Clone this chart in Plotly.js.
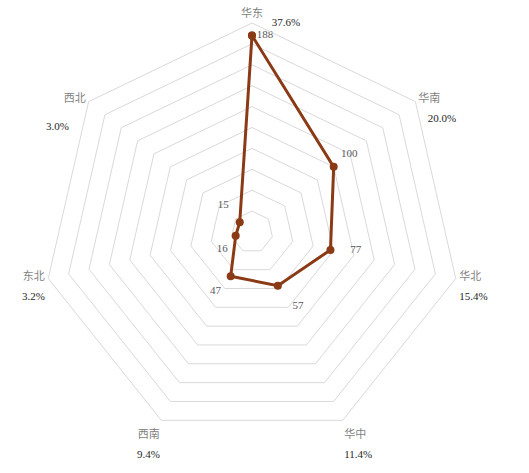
<!DOCTYPE html>
<html>
<head>
<meta charset="utf-8">
<script src="https://cdn.plot.ly/plotly-3.0.1.min.js"></script>
<style>
html,body{margin:0;padding:0;background:#fff;}
#chart{width:529px;height:473px;}
</style>
</head>
<body>
<div id="chart"></div>
<script>
const categories = ['华东', '华南', '华北', '华中', '西南', '东北', '西北'];
const values = [188, 100, 77, 57, 47, 16, 15];
const shares = ['37.6%', '20.0%', '15.4%', '11.4%', '9.4%', '3.2%', '3.0%'];

// label placement (style only)
const labelPositions = ['middle right', 'top right', 'middle right', 'bottom right', 'bottom left', 'bottom left', 'top left'];
const labelGap = [6, 10, 30, 22, 14, 11, 16];

const lineColor = '#8a3a14';
const gridColor = '#d9d9d9';
const rMax = 200;
const fontFamily = 'Liberation Serif, Noto Sans CJK SC';

// Categories on the upper side keep their share beside them (drawn by a text
// trace); the others show category and share on two lines.
const sideShare = [0, 1, 6];
const sidePos = {0: 'middle right', 1: 'bottom right', 6: 'bottom left'};
const sideSize = {0: 30, 1: 18, 6: 30};

const tickText = categories.map((c, i) => {
  const cat = '<span style="fill:#7f7f7f;font-size:11px">' + c + '</span>';
  if (sideShare.indexOf(i) !== -1) return cat;
  return cat + '<br><span style="fill:#262626;font-size:11px">' + shares[i] + '</span>';
});

const closedTheta = categories.concat([categories[0]]);
const closedR = values.concat([values[0]]);

const lineTrace = {
  type: 'scatterpolar',
  r: closedR,
  theta: closedTheta,
  mode: 'lines+markers',
  line: {color: lineColor, width: 3},
  marker: {color: lineColor, size: 8},
  cliponaxis: false,
  hoverinfo: 'skip',
  showlegend: false
};

const valueLabels = {
  type: 'scatterpolar',
  r: values,
  theta: categories,
  mode: 'markers+text',
  text: values.map(String),
  textposition: labelPositions,
  textfont: {family: fontFamily, size: 11, color: '#595959'},
  marker: {size: labelGap, opacity: 0},
  cliponaxis: false,
  hoverinfo: 'skip',
  showlegend: false
};

const shareTrace = {
  type: 'scatterpolar',
  r: sideShare.map(() => rMax),
  theta: sideShare.map(i => categories[i]),
  mode: 'markers+text',
  text: sideShare.map(i => shares[i]),
  textposition: sideShare.map(i => sidePos[i]),
  textfont: {family: fontFamily, size: 11, color: '#262626'},
  marker: {size: sideShare.map(i => sideSize[i]), opacity: 0},
  cliponaxis: false,
  hoverinfo: 'skip',
  showlegend: false
};

const layout = {
  width: 529,
  height: 473,
  margin: {l: 43, r: 68, t: 23, b: 32},
  paper_bgcolor: '#ffffff',
  plot_bgcolor: '#ffffff',
  showlegend: false,
  font: {family: fontFamily, size: 11, color: '#7f7f7f'},
  polar: {
    bgcolor: '#ffffff',
    gridshape: 'linear',
    domain: {x: [0, 1], y: [0, 1]},
    radialaxis: {
      range: [0, rMax],
      dtick: 20,
      tick0: 0,
      showticklabels: false,
      ticks: '',
      showline: false,
      gridcolor: gridColor,
      gridwidth: 1,
      angle: 90
    },
    angularaxis: {
      type: 'category',
      categoryarray: categories,
      direction: 'clockwise',
      rotation: 90,
      showgrid: false,
      showline: true,
      linecolor: gridColor,
      linewidth: 1,
      ticks: '',
      tickvals: categories,
      ticktext: tickText,
      tickfont: {family: fontFamily, size: 15, color: '#7f7f7f'}
    }
  }
};

Plotly.newPlot('chart', [lineTrace, valueLabels, shareTrace], layout, {displayModeBar: false, staticPlot: true});
</script>
</body>
</html>
